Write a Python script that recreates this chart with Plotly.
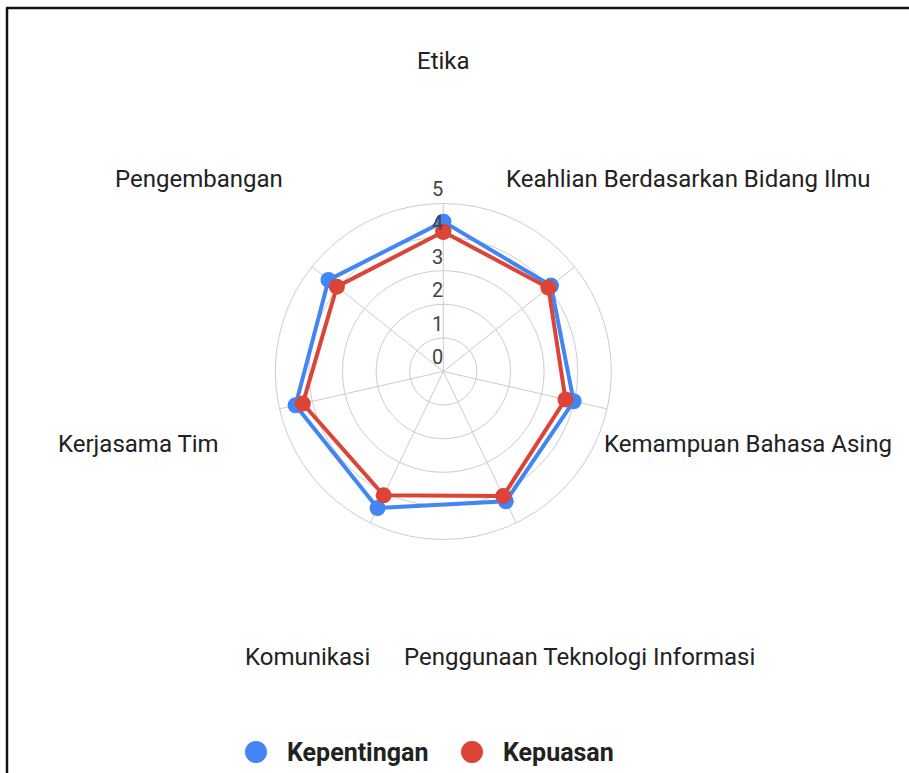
import math
import plotly.graph_objects as go

# Survey dimensions and mean scores (1-5 scale)
categories = [
    "Etika",
    "Keahlian Berdasarkan Bidang Ilmu",
    "Kemampuan Bahasa Asing",
    "Penggunaan Teknologi Informasi",
    "Komunikasi",
    "Kerjasama Tim",
    "Pengembangan",
]
kepentingan = [4.46, 4.10, 3.98, 4.29, 4.51, 4.51, 4.37]
kepuasan = [4.16, 4.00, 3.73, 4.11, 4.09, 4.29, 4.05]
radial_ticks = [0, 1, 2, 3, 4, 5]
series_names = ["Kepentingan", "Kepuasan"]

BLUE = "#4285F4"
RED = "#DB4437"
GRID = "#cccccc"
FONT = "Roboto, Arial, sans-serif"

n = len(categories)
angles = [i * 360.0 / n for i in range(n)]
r_max = radial_ticks[-1]

fig = go.Figure()

# spokes from the centre to the outer ring
for a in angles:
    fig.add_trace(go.Scatterpolar(
        r=[0, r_max], theta=[a, a], mode="lines",
        line=dict(color=GRID, width=1),
        showlegend=False, hoverinfo="skip",
    ))

# the two score series, closed polygons
for name, vals, col in [(series_names[0], kepentingan, BLUE), (series_names[1], kepuasan, RED)]:
    fig.add_trace(go.Scatterpolar(
        r=vals + vals[:1], theta=angles + angles[:1],
        mode="lines+markers", name=name,
        line=dict(color=col, width=4),
        marker=dict(color=col, size=16),
        showlegend=False,
    ))

# radial tick labels along the top spoke
fig.add_trace(go.Scatterpolar(
    r=[v + 0.06 for v in radial_ticks], theta=[0] * len(radial_ticks),
    mode="text", text=[str(v) for v in radial_ticks],
    textposition="top left",
    textfont=dict(family=FONT, size=20, color="#444444"),
    showlegend=False, hoverinfo="skip", cliponaxis=False,
))

W, H = 909, 773
cx, cy, rad = 443.3, 371.5, 336.0

annotations = []

# category labels placed outward along each spoke direction
label_dist = 313.0
for cat, a in zip(categories, angles):
    t = math.radians(a)
    px = cx + label_dist * math.sin(t)
    py = cy - label_dist * math.cos(t) + 3
    annotations.append(dict(xref="paper", yref="paper", x=px / W, y=1 - py / H,
                            xanchor="center", yanchor="middle", showarrow=False,
                            text=cat, font=dict(family=FONT, size=24, color="#222222")))

# legend row at the bottom: circle symbol followed by bold label
shapes = []
leg_y = 1 - 752 / H
leg_items = [(series_names[0], BLUE, 256), (series_names[1], RED, 472)]
for name, col, px in leg_items:
    shapes.append(dict(type="circle", xref="paper", yref="paper",
                       x0=(px - 11) / W, x1=(px + 11) / W,
                       y0=leg_y - 11 / H, y1=leg_y + 11 / H,
                       fillcolor=col, line=dict(color=col, width=0)))
    annotations.append(dict(xref="paper", yref="paper", x=(px + 29) / W, y=leg_y,
                            xanchor="left", yanchor="middle", showarrow=False,
                            text="<b>%s</b>" % name,
                            font=dict(family=FONT, size=25, color="#222222")))

# frame edges along the top and left
shapes += [
    dict(type="line", xref="paper", yref="paper", x0=6 / W, x1=1, y0=1 - 8 / H, y1=1 - 8 / H,
         line=dict(color="#111111", width=2.5)),
    dict(type="line", xref="paper", yref="paper", x0=7 / W, x1=7 / W, y0=0, y1=1 - 8 / H,
         line=dict(color="#111111", width=2.5)),
]

fig.update_layout(
    width=W, height=H,
    margin=dict(l=0, r=0, t=0, b=0),
    paper_bgcolor="white",
    font=dict(family=FONT),
    showlegend=False,
    polar=dict(
        domain=dict(x=[(cx - rad) / W, (cx + rad) / W],
                    y=[(H - cy - rad) / H, (H - cy + rad) / H]),
        bgcolor="white",
        radialaxis=dict(range=[0, 10], tickvals=radial_ticks, showticklabels=False,
                        ticks="", showline=False, gridcolor=GRID, gridwidth=1.2),
        angularaxis=dict(rotation=90, direction="clockwise", thetaunit="degrees",
                         showticklabels=False, ticks="", showline=False, showgrid=False),
    ),
    shapes=shapes,
    annotations=annotations,
)

fig.write_html("out.html")
